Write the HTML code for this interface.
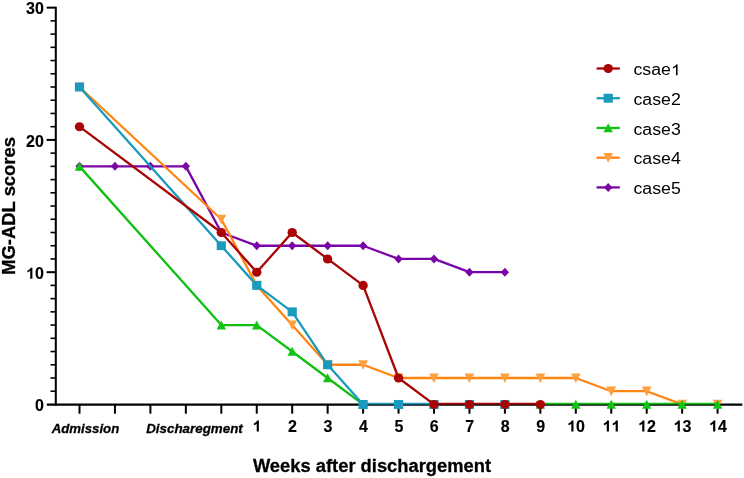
<!DOCTYPE html>
<html><head><meta charset="utf-8"><title>MG-ADL scores</title>
<style>
html,body{margin:0;padding:0;background:#fff;}
body{width:744px;height:478px;overflow:hidden;font-family:"Liberation Sans",sans-serif;}
svg{display:block;will-change:transform;}
text{font-family:"Liberation Sans",sans-serif;fill:#000;}
.b{font-weight:bold;stroke:#000;stroke-width:0.3px;}
.n{font-weight:bold;stroke:#000;stroke-width:0.15px;}
.bi{font-weight:bold;font-style:italic;stroke:#000;stroke-width:0.3px;}
</style></head><body>
<svg width="744" height="478" viewBox="0 0 744 478">

<g stroke="#000" fill="none">
<line x1="55.8" y1="6.64" x2="55.8" y2="405.70" stroke-width="2.05"/>
<line x1="46.8" y1="404.50" x2="742.3" y2="404.50" stroke-width="2.25"/>
<line x1="50.5" y1="391.22" x2="55.8" y2="391.22" stroke-width="1.6"/>
<line x1="50.5" y1="378.00" x2="55.8" y2="378.00" stroke-width="1.6"/>
<line x1="50.5" y1="364.77" x2="55.8" y2="364.77" stroke-width="1.6"/>
<line x1="50.5" y1="351.54" x2="55.8" y2="351.54" stroke-width="1.6"/>
<line x1="50.5" y1="338.31" x2="55.8" y2="338.31" stroke-width="1.6"/>
<line x1="50.5" y1="325.09" x2="55.8" y2="325.09" stroke-width="1.6"/>
<line x1="50.5" y1="311.86" x2="55.8" y2="311.86" stroke-width="1.6"/>
<line x1="50.5" y1="298.63" x2="55.8" y2="298.63" stroke-width="1.6"/>
<line x1="50.5" y1="285.41" x2="55.8" y2="285.41" stroke-width="1.6"/>
<line x1="46.6" y1="272.18" x2="55.8" y2="272.18" stroke-width="2.0"/>
<line x1="50.5" y1="258.95" x2="55.8" y2="258.95" stroke-width="1.6"/>
<line x1="50.5" y1="245.73" x2="55.8" y2="245.73" stroke-width="1.6"/>
<line x1="50.5" y1="232.50" x2="55.8" y2="232.50" stroke-width="1.6"/>
<line x1="50.5" y1="219.27" x2="55.8" y2="219.27" stroke-width="1.6"/>
<line x1="50.5" y1="206.04" x2="55.8" y2="206.04" stroke-width="1.6"/>
<line x1="50.5" y1="192.82" x2="55.8" y2="192.82" stroke-width="1.6"/>
<line x1="50.5" y1="179.59" x2="55.8" y2="179.59" stroke-width="1.6"/>
<line x1="50.5" y1="166.36" x2="55.8" y2="166.36" stroke-width="1.6"/>
<line x1="50.5" y1="153.14" x2="55.8" y2="153.14" stroke-width="1.6"/>
<line x1="46.6" y1="139.91" x2="55.8" y2="139.91" stroke-width="2.0"/>
<line x1="50.5" y1="126.68" x2="55.8" y2="126.68" stroke-width="1.6"/>
<line x1="50.5" y1="113.46" x2="55.8" y2="113.46" stroke-width="1.6"/>
<line x1="50.5" y1="100.23" x2="55.8" y2="100.23" stroke-width="1.6"/>
<line x1="50.5" y1="87.00" x2="55.8" y2="87.00" stroke-width="1.6"/>
<line x1="50.5" y1="73.77" x2="55.8" y2="73.77" stroke-width="1.6"/>
<line x1="50.5" y1="60.55" x2="55.8" y2="60.55" stroke-width="1.6"/>
<line x1="50.5" y1="47.32" x2="55.8" y2="47.32" stroke-width="1.6"/>
<line x1="50.5" y1="34.09" x2="55.8" y2="34.09" stroke-width="1.6"/>
<line x1="50.5" y1="20.87" x2="55.8" y2="20.87" stroke-width="1.6"/>
<line x1="46.6" y1="7.64" x2="55.8" y2="7.64" stroke-width="2.0"/>
<line x1="79.50" y1="404.45" x2="79.50" y2="413.7" stroke-width="2.0"/>
<line x1="114.95" y1="404.45" x2="114.95" y2="413.7" stroke-width="2.0"/>
<line x1="150.40" y1="404.45" x2="150.40" y2="413.7" stroke-width="2.0"/>
<line x1="185.85" y1="404.45" x2="185.85" y2="413.7" stroke-width="2.0"/>
<line x1="221.30" y1="404.45" x2="221.30" y2="413.7" stroke-width="2.0"/>
<line x1="256.75" y1="404.45" x2="256.75" y2="413.7" stroke-width="2.0"/>
<line x1="292.20" y1="404.45" x2="292.20" y2="413.7" stroke-width="2.0"/>
<line x1="327.65" y1="404.45" x2="327.65" y2="413.7" stroke-width="2.0"/>
<line x1="363.10" y1="404.45" x2="363.10" y2="413.7" stroke-width="2.0"/>
<line x1="398.55" y1="404.45" x2="398.55" y2="413.7" stroke-width="2.0"/>
<line x1="434.00" y1="404.45" x2="434.00" y2="413.7" stroke-width="2.0"/>
<line x1="469.45" y1="404.45" x2="469.45" y2="413.7" stroke-width="2.0"/>
<line x1="504.90" y1="404.45" x2="504.90" y2="413.7" stroke-width="2.0"/>
<line x1="540.35" y1="404.45" x2="540.35" y2="413.7" stroke-width="2.0"/>
<line x1="575.80" y1="404.45" x2="575.80" y2="413.7" stroke-width="2.0"/>
<line x1="611.25" y1="404.45" x2="611.25" y2="413.7" stroke-width="2.0"/>
<line x1="646.70" y1="404.45" x2="646.70" y2="413.7" stroke-width="2.0"/>
<line x1="682.15" y1="404.45" x2="682.15" y2="413.7" stroke-width="2.0"/>
<line x1="717.60" y1="404.45" x2="717.60" y2="413.7" stroke-width="2.0"/>
</g>
<text class="n" transform="translate(35.00 411.05) scale(1.0000 1)" font-size="16">0</text>
<path d="M806 0H525V1059Q371 915 162 846V1101Q272 1137 401 1237.5Q530 1338 578 1472H806Z" transform="translate(26.11 278.78) scale(0.00781 -0.00748)" fill="#000"/><text class="n" transform="translate(35.00 278.78) scale(1.0000 1)" font-size="16">0</text>
<text class="n" transform="translate(26.11 146.51) scale(1.0000 1)" font-size="16">2</text><text class="n" transform="translate(35.00 146.51) scale(1.0000 1)" font-size="16">0</text>
<text class="n" transform="translate(26.11 14.24) scale(1.0000 1)" font-size="16">3</text><text class="n" transform="translate(35.00 14.24) scale(1.0000 1)" font-size="16">0</text>
<path d="M806 0H525V1059Q371 915 162 846V1101Q272 1137 401 1237.5Q530 1338 578 1472H806Z" transform="translate(252.60 431.60) scale(0.00781 -0.00748)" fill="#000"/>
<text class="n" transform="translate(288.05 431.60) scale(1.0000 1)" font-size="16">2</text>
<text class="n" transform="translate(323.50 431.60) scale(1.0000 1)" font-size="16">3</text>
<text class="n" transform="translate(358.95 431.60) scale(1.0000 1)" font-size="16">4</text>
<text class="n" transform="translate(394.40 431.60) scale(1.0000 1)" font-size="16">5</text>
<text class="n" transform="translate(429.85 431.60) scale(1.0000 1)" font-size="16">6</text>
<text class="n" transform="translate(465.30 431.60) scale(1.0000 1)" font-size="16">7</text>
<text class="n" transform="translate(500.75 431.60) scale(1.0000 1)" font-size="16">8</text>
<text class="n" transform="translate(536.20 431.60) scale(1.0000 1)" font-size="16">9</text>
<path d="M806 0H525V1059Q371 915 162 846V1101Q272 1137 401 1237.5Q530 1338 578 1472H806Z" transform="translate(567.20 431.60) scale(0.00781 -0.00748)" fill="#000"/><text class="n" transform="translate(576.10 431.60) scale(1.0000 1)" font-size="16">0</text>
<path d="M806 0H525V1059Q371 915 162 846V1101Q272 1137 401 1237.5Q530 1338 578 1472H806Z" transform="translate(602.65 431.60) scale(0.00781 -0.00748)" fill="#000"/><path d="M806 0H525V1059Q371 915 162 846V1101Q272 1137 401 1237.5Q530 1338 578 1472H806Z" transform="translate(611.55 431.60) scale(0.00781 -0.00748)" fill="#000"/>
<path d="M806 0H525V1059Q371 915 162 846V1101Q272 1137 401 1237.5Q530 1338 578 1472H806Z" transform="translate(638.10 431.60) scale(0.00781 -0.00748)" fill="#000"/><text class="n" transform="translate(647.00 431.60) scale(1.0000 1)" font-size="16">2</text>
<path d="M806 0H525V1059Q371 915 162 846V1101Q272 1137 401 1237.5Q530 1338 578 1472H806Z" transform="translate(673.55 431.60) scale(0.00781 -0.00748)" fill="#000"/><text class="n" transform="translate(682.45 431.60) scale(1.0000 1)" font-size="16">3</text>
<path d="M806 0H525V1059Q371 915 162 846V1101Q272 1137 401 1237.5Q530 1338 578 1472H806Z" transform="translate(709.00 431.60) scale(0.00781 -0.00748)" fill="#000"/><text class="n" transform="translate(717.90 431.60) scale(1.0000 1)" font-size="16">4</text>
<text class="bi" x="51.7" y="433.0" font-size="13.6" textLength="67.6" lengthAdjust="spacingAndGlyphs">Admission</text>
<text class="bi" x="146.2" y="433.0" font-size="13.6" textLength="96.6" lengthAdjust="spacingAndGlyphs">Discharegment</text>
<text class="b" x="372.0" y="472.4" font-size="18.8" text-anchor="middle" textLength="238.2" lengthAdjust="spacingAndGlyphs">Weeks after dischargement</text>
<text class="b" transform="translate(14.5 205.9) rotate(-90)" font-size="18.2" text-anchor="middle" textLength="137.8" lengthAdjust="spacingAndGlyphs">MG-ADL scores</text>
<polyline points="79.50,166.36 114.95,166.36 150.40,166.36 185.85,166.36 221.30,232.50 256.75,245.73 292.20,245.73 327.65,245.73 363.10,245.73 398.55,258.95 434.00,258.95 469.45,272.18 504.90,272.18" fill="none" stroke="#7A05A6" stroke-width="2.3" stroke-linejoin="round"/>
<polygon points="79.50,161.86 83.65,166.36 79.50,170.86 75.35,166.36" fill="#7A05A6"/>
<polygon points="114.95,161.86 119.10,166.36 114.95,170.86 110.80,166.36" fill="#7A05A6"/>
<polygon points="150.40,161.86 154.55,166.36 150.40,170.86 146.25,166.36" fill="#7A05A6"/>
<polygon points="185.85,161.86 190.00,166.36 185.85,170.86 181.70,166.36" fill="#7A05A6"/>
<polygon points="221.30,228.00 225.45,232.50 221.30,237.00 217.15,232.50" fill="#7A05A6"/>
<polygon points="256.75,241.23 260.90,245.73 256.75,250.23 252.60,245.73" fill="#7A05A6"/>
<polygon points="292.20,241.23 296.35,245.73 292.20,250.23 288.05,245.73" fill="#7A05A6"/>
<polygon points="327.65,241.23 331.80,245.73 327.65,250.23 323.50,245.73" fill="#7A05A6"/>
<polygon points="363.10,241.23 367.25,245.73 363.10,250.23 358.95,245.73" fill="#7A05A6"/>
<polygon points="398.55,254.45 402.70,258.95 398.55,263.45 394.40,258.95" fill="#7A05A6"/>
<polygon points="434.00,254.45 438.15,258.95 434.00,263.45 429.85,258.95" fill="#7A05A6"/>
<polygon points="469.45,267.68 473.60,272.18 469.45,276.68 465.30,272.18" fill="#7A05A6"/>
<polygon points="504.90,267.68 509.05,272.18 504.90,276.68 500.75,272.18" fill="#7A05A6"/>
<polyline points="79.50,87.00 221.30,219.27 256.75,285.41 292.20,325.09 327.65,364.77 363.10,364.77 398.55,378.00 434.00,378.00 469.45,378.00 504.90,378.00 540.35,378.00 575.80,378.00 611.25,391.22 646.70,391.22 682.15,404.45" fill="none" stroke="#FF8412" stroke-width="2.3" stroke-linejoin="round"/>
<polygon points="79.50,92.00 84.35,82.40 74.65,82.40" fill="#FFA040"/>
<polygon points="221.30,224.27 226.15,214.67 216.45,214.67" fill="#FFA040"/>
<polygon points="256.75,290.41 261.60,280.81 251.90,280.81" fill="#FFA040"/>
<polygon points="292.20,330.09 297.05,320.49 287.35,320.49" fill="#FFA040"/>
<polygon points="327.65,369.77 332.50,360.17 322.80,360.17" fill="#FFA040"/>
<polygon points="363.10,369.77 367.95,360.17 358.25,360.17" fill="#FFA040"/>
<polygon points="398.55,383.00 403.40,373.40 393.70,373.40" fill="#FFA040"/>
<polygon points="434.00,383.00 438.85,373.40 429.15,373.40" fill="#FFA040"/>
<polygon points="469.45,383.00 474.30,373.40 464.60,373.40" fill="#FFA040"/>
<polygon points="504.90,383.00 509.75,373.40 500.05,373.40" fill="#FFA040"/>
<polygon points="540.35,383.00 545.20,373.40 535.50,373.40" fill="#FFA040"/>
<polygon points="575.80,383.00 580.65,373.40 570.95,373.40" fill="#FFA040"/>
<polygon points="611.25,396.22 616.10,386.62 606.40,386.62" fill="#FFA040"/>
<polygon points="646.70,396.22 651.55,386.62 641.85,386.62" fill="#FFA040"/>
<polygon points="682.15,409.45 687.00,399.85 677.30,399.85" fill="#FFA040"/>
<polygon points="717.60,409.45 722.45,399.85 712.75,399.85" fill="#FFA040"/>
<polyline points="79.50,166.36 221.30,325.09 256.75,325.09 292.20,351.54 327.65,378.00 363.10,404.45" fill="none" stroke="#10C010" stroke-width="2.3" stroke-linejoin="round"/>
<line x1="540.35" y1="403.60" x2="717.60" y2="403.60" stroke="#10C010" stroke-width="1.8"/>
<polygon points="79.50,161.66 84.20,170.66 74.80,170.66" fill="#10C414"/>
<polygon points="221.30,320.39 226.00,329.39 216.60,329.39" fill="#10C414"/>
<polygon points="256.75,320.39 261.45,329.39 252.05,329.39" fill="#10C414"/>
<polygon points="292.20,346.84 296.90,355.84 287.50,355.84" fill="#10C414"/>
<polygon points="327.65,373.30 332.35,382.30 322.95,382.30" fill="#10C414"/>
<polygon points="363.10,399.75 367.80,408.75 358.40,408.75" fill="#10C414"/>
<polygon points="398.55,399.75 403.25,408.75 393.85,408.75" fill="#10C414"/>
<polygon points="434.00,399.75 438.70,408.75 429.30,408.75" fill="#10C414"/>
<polygon points="469.45,399.75 474.15,408.75 464.75,408.75" fill="#10C414"/>
<polygon points="504.90,399.75 509.60,408.75 500.20,408.75" fill="#10C414"/>
<polygon points="540.35,399.75 545.05,408.75 535.65,408.75" fill="#10C414"/>
<polygon points="575.80,399.75 580.50,408.75 571.10,408.75" fill="#10C414"/>
<polygon points="611.25,399.75 615.95,408.75 606.55,408.75" fill="#10C414"/>
<polygon points="646.70,399.75 651.40,408.75 642.00,408.75" fill="#10C414"/>
<polygon points="682.15,399.75 686.85,408.75 677.45,408.75" fill="#10C414"/>
<polygon points="717.60,399.75 722.30,408.75 712.90,408.75" fill="#10C414"/>
<polyline points="79.50,87.00 221.30,245.73 256.75,285.41 292.20,311.86 327.65,364.77 363.10,404.45" fill="none" stroke="#1A9ABC" stroke-width="2.3" stroke-linejoin="round"/>
<line x1="363.10" y1="403.60" x2="434.00" y2="403.60" stroke="#1A9ABC" stroke-width="1.8"/>
<rect x="74.90" y="82.55" width="9.2" height="8.9" fill="#1A9ABC"/>
<rect x="216.70" y="241.28" width="9.2" height="8.9" fill="#1A9ABC"/>
<rect x="252.15" y="280.96" width="9.2" height="8.9" fill="#1A9ABC"/>
<rect x="287.60" y="307.41" width="9.2" height="8.9" fill="#1A9ABC"/>
<rect x="323.05" y="360.32" width="9.2" height="8.9" fill="#1A9ABC"/>
<rect x="358.50" y="400.00" width="9.2" height="8.9" fill="#1A9ABC"/>
<rect x="393.95" y="400.00" width="9.2" height="8.9" fill="#1A9ABC"/>
<rect x="429.40" y="400.00" width="9.2" height="8.9" fill="#1A9ABC"/>
<rect x="464.85" y="400.00" width="9.2" height="8.9" fill="#1A9ABC"/>
<rect x="500.30" y="400.00" width="9.2" height="8.9" fill="#1A9ABC"/>
<polyline points="79.50,126.68 221.30,232.50 256.75,272.18 292.20,232.50 327.65,258.95 363.10,285.41 398.55,378.00 434.00,404.45" fill="none" stroke="#A90505" stroke-width="2.3" stroke-linejoin="round"/>
<line x1="434.00" y1="403.60" x2="540.35" y2="403.60" stroke="#A90505" stroke-width="1.8"/>
<ellipse cx="79.50" cy="126.68" rx="4.7" ry="4.55" fill="#A90505"/>
<ellipse cx="221.30" cy="232.50" rx="4.7" ry="4.55" fill="#A90505"/>
<ellipse cx="256.75" cy="272.18" rx="4.7" ry="4.55" fill="#A90505"/>
<ellipse cx="292.20" cy="232.50" rx="4.7" ry="4.55" fill="#A90505"/>
<ellipse cx="327.65" cy="258.95" rx="4.7" ry="4.55" fill="#A90505"/>
<ellipse cx="363.10" cy="285.41" rx="4.7" ry="4.55" fill="#A90505"/>
<ellipse cx="398.55" cy="378.00" rx="4.7" ry="4.55" fill="#A90505"/>
<ellipse cx="434.00" cy="404.45" rx="4.7" ry="4.55" fill="#A90505"/>
<ellipse cx="469.45" cy="404.45" rx="4.7" ry="4.55" fill="#A90505"/>
<ellipse cx="504.90" cy="404.45" rx="4.7" ry="4.55" fill="#A90505"/>
<ellipse cx="540.35" cy="404.45" rx="4.7" ry="4.55" fill="#A90505"/>
<line x1="596.6" y1="68.50" x2="619.8" y2="68.50" stroke="#A90505" stroke-width="2.3"/>
<ellipse cx="608.20" cy="68.50" rx="4.7" ry="4.55" fill="#A90505"/>
<text x="633.5" y="75.20" font-size="15.8" textLength="37.44" lengthAdjust="spacingAndGlyphs">csae</text>
<path d="M763 0H583V1147Q518 1085 412.5 1023Q307 961 223 930V1104Q374 1175 487 1276Q600 1377 647 1472H763Z" transform="translate(670.94 75.20) scale(0.00866 -0.00738)" fill="#000"/>
<line x1="596.6" y1="98.23" x2="619.8" y2="98.23" stroke="#1A9ABC" stroke-width="2.3"/>
<rect x="603.60" y="93.78" width="9.2" height="8.9" fill="#1A9ABC"/>
<text x="633.5" y="104.93" font-size="15.8" textLength="47.3" lengthAdjust="spacingAndGlyphs">case2</text>
<line x1="596.6" y1="127.96" x2="619.8" y2="127.96" stroke="#10C010" stroke-width="2.3"/>
<polygon points="608.20,123.26 612.90,132.26 603.50,132.26" fill="#10C414"/>
<text x="633.5" y="134.66" font-size="15.8" textLength="47.3" lengthAdjust="spacingAndGlyphs">case3</text>
<line x1="596.6" y1="157.69" x2="619.8" y2="157.69" stroke="#FF8412" stroke-width="2.3"/>
<polygon points="608.20,162.69 613.05,153.09 603.35,153.09" fill="#FFA040"/>
<text x="633.5" y="164.39" font-size="15.8" textLength="47.3" lengthAdjust="spacingAndGlyphs">case4</text>
<line x1="596.6" y1="187.42" x2="619.8" y2="187.42" stroke="#7A05A6" stroke-width="2.3"/>
<polygon points="608.20,182.92 612.35,187.42 608.20,191.92 604.05,187.42" fill="#7A05A6"/>
<text x="633.5" y="194.12" font-size="15.8" textLength="47.3" lengthAdjust="spacingAndGlyphs">case5</text>
</svg></body></html>
